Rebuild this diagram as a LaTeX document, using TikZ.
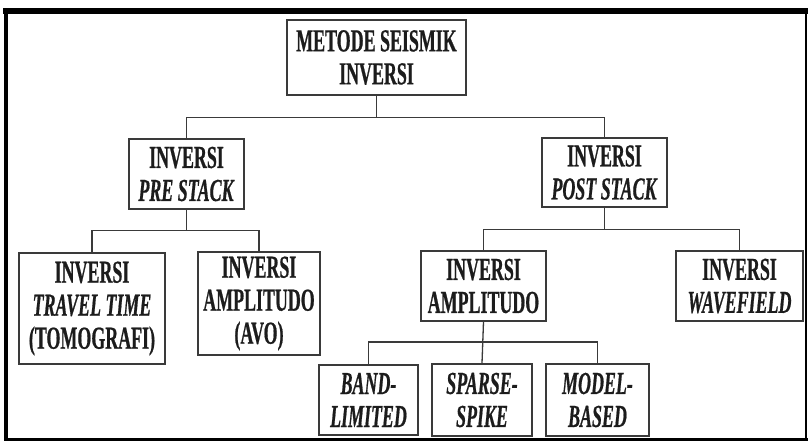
\documentclass[tikz,border=0pt]{standalone}
\usepackage{fontspec}
\setmainfont{Liberation Serif}[FakeStretch=0.56, FakeBold=0.6]
\usepackage{tikz}
\usepackage{xcolor}
\definecolor{ink}{HTML}{1C1C1C}
\definecolor{rule}{HTML}{3A3A3A}
\begin{document}
\begin{tikzpicture}[x=1pt, y=-1pt,
  bx/.style={draw=rule, line width=1.6pt, inner sep=0pt, align=center, text=ink,
    font=\fontsize{32}{33}\selectfont\bfseries},
  ed/.style={draw=rule, line width=1.3pt}]
\useasboundingbox (0,0) rectangle (808,442);
% frame
\draw[line width=6pt] (3,11) -- (808,11);
\draw[line width=4pt] (6,8) -- (6,441);
\draw[line width=3pt] (4,439.5) -- (808,439.5);
\draw[line width=2pt] (806,8) -- (806,441);
% boxes
\node[bx, minimum width=179pt, minimum height=75pt] (root) at (376.5,57.5) {METODE SEISMIK\\ INVERSI};
\node[bx, minimum width=115pt, minimum height=70pt] (pre) at (186.5,174) {INVERSI\\ \textit{PRE STACK}};
\node[bx, minimum width=125pt, minimum height=69pt] (post) at (604.5,172.5) {INVERSI\\ \textit{POST STACK}};
\node[bx, minimum width=146pt, minimum height=111pt] (tt) at (92,308.5) {INVERSI\\ \textit{TRAVEL TIME}\\ (TOMOGRAFI)};
\node[bx, minimum width=122pt, minimum height=103pt] (avo) at (259,303.5) {INVERSI\\ AMPLITUDO\\ (AVO)};
\node[bx, minimum width=125pt, minimum height=70pt] (amp) at (483.5,286) {INVERSI\\ AMPLITUDO};
\node[bx, minimum width=127pt, minimum height=70pt] (wave) at (739.5,286) {INVERSI\\ \textit{WAVEFIELD}};
\node[bx, minimum width=99pt, minimum height=70pt] (band) at (368.5,400) {\textit{BAND-}\\ \textit{LIMITED}};
\node[bx, minimum width=100pt, minimum height=72pt] (sparse) at (482,400) {\textit{SPARSE-}\\ \textit{SPIKE}};
\node[bx, minimum width=103pt, minimum height=72pt] (model) at (597.5,400) {\textit{MODEL-}\\ \textit{BASED}};
% links
\draw[ed] (root.south) -- ++(0,22) coordinate (j0);
\draw[ed] (pre.north) |- (j0) -| (post.north);
\draw[ed] (pre.south) -- ++(0,21) coordinate (j1);
\draw[ed] (tt.north) |- (j1) -| (avo.north);
\draw[ed] (post.south) -- ++(0,22) coordinate (j2);
\draw[ed] (amp.north) |- (j2) -| (wave.north);
\draw[ed] (amp.south) -- (sparse.north);
\draw[ed] (band.north) |- (amp.south |- 0,342) -| (model.north);
\end{tikzpicture}
\end{document}
